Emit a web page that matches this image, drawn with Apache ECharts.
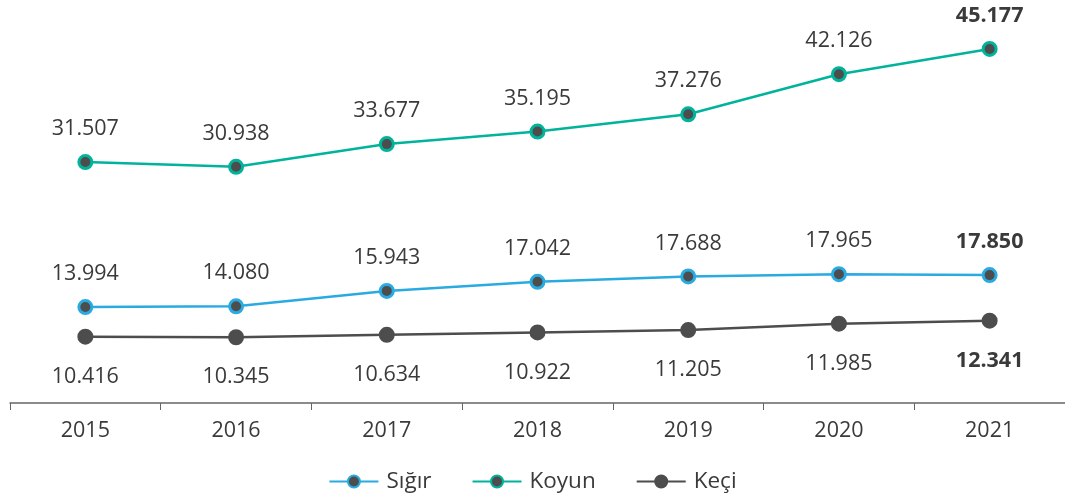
<!DOCTYPE html>
<html><head><meta charset="utf-8">
<script src="https://cdn.jsdelivr.net/npm/echarts@6/dist/echarts.min.js"></script>
<style>html,body{margin:0;padding:0;background:#fff}#c{width:1065px;height:501px}</style>
</head><body><div id="c"></div>
<script>
const years = ['2015','2016','2017','2018','2019','2020','2021'];
const sigir = [13.994, 14.080, 15.943, 17.042, 17.688, 17.965, 17.850];
const koyun = [31.507, 30.938, 33.677, 35.195, 37.276, 42.126, 45.177];
const keci  = [10.416, 10.345, 10.634, 10.922, 11.205, 11.985, 12.341];
const names = ['Sığır','Koyun','Keçi'];
const colors = ['#29abe2','#00b39b','#4d4d4d'];
const FONT = '"Open Sans", sans-serif';
function fmt(v){ return v.toFixed(3); }
function mk(name, data, color, pos, dist){
  return {
    name, type:'line', data, symbol:'circle', symbolSize:13,
    lineStyle:{color, width:2.5},
    itemStyle:{color:'#4d4d4d', borderColor:color, borderWidth:3},
    label:{show:true, position:pos, distance:dist, fontFamily:FONT, fontSize:21.5, color:'#3a3a3a',
      formatter:p=> p.dataIndex===data.length-1 ? '{b|'+fmt(p.value)+'}' : fmt(p.value),
      rich:{b:{fontWeight:'bold', fontFamily:FONT, fontSize:21.5, color:'#3a3a3a'}}},
    emphasis:{disabled:true}
  };
}
const chart = echarts.init(document.getElementById('c'));
chart.setOption({
  animation:false,
  color: colors,
  grid:{left:10, top:9, width:1056, height:394, containLabel:false},
  xAxis:{type:'category', data:years, boundaryGap:true,
    axisLine:{lineStyle:{color:'#666', width:1.5}},
    axisTick:{show:true, length:7, lineStyle:{color:'#666'}},
    axisLabel:{fontFamily:FONT, fontSize:21.5, color:'#3a3a3a', margin:17}},
  yAxis:{type:'value', min:2.4, max:50, show:false, splitLine:{show:false}},
  legend:{bottom:3, left:'center', itemWidth:49, itemHeight:15, itemGap:40,
    textStyle:{fontFamily:FONT, fontSize:22.5, color:'#3a3a3a', padding:[0,0,0,3]},
    data:names},
  series:[
    mk(names[0], sigir, colors[0], 'top', 14),
    mk(names[1], koyun, colors[1], 'top', 14),
    mk(names[2], keci, colors[2], 'bottom', 21)
  ]
});
</script></body></html>
